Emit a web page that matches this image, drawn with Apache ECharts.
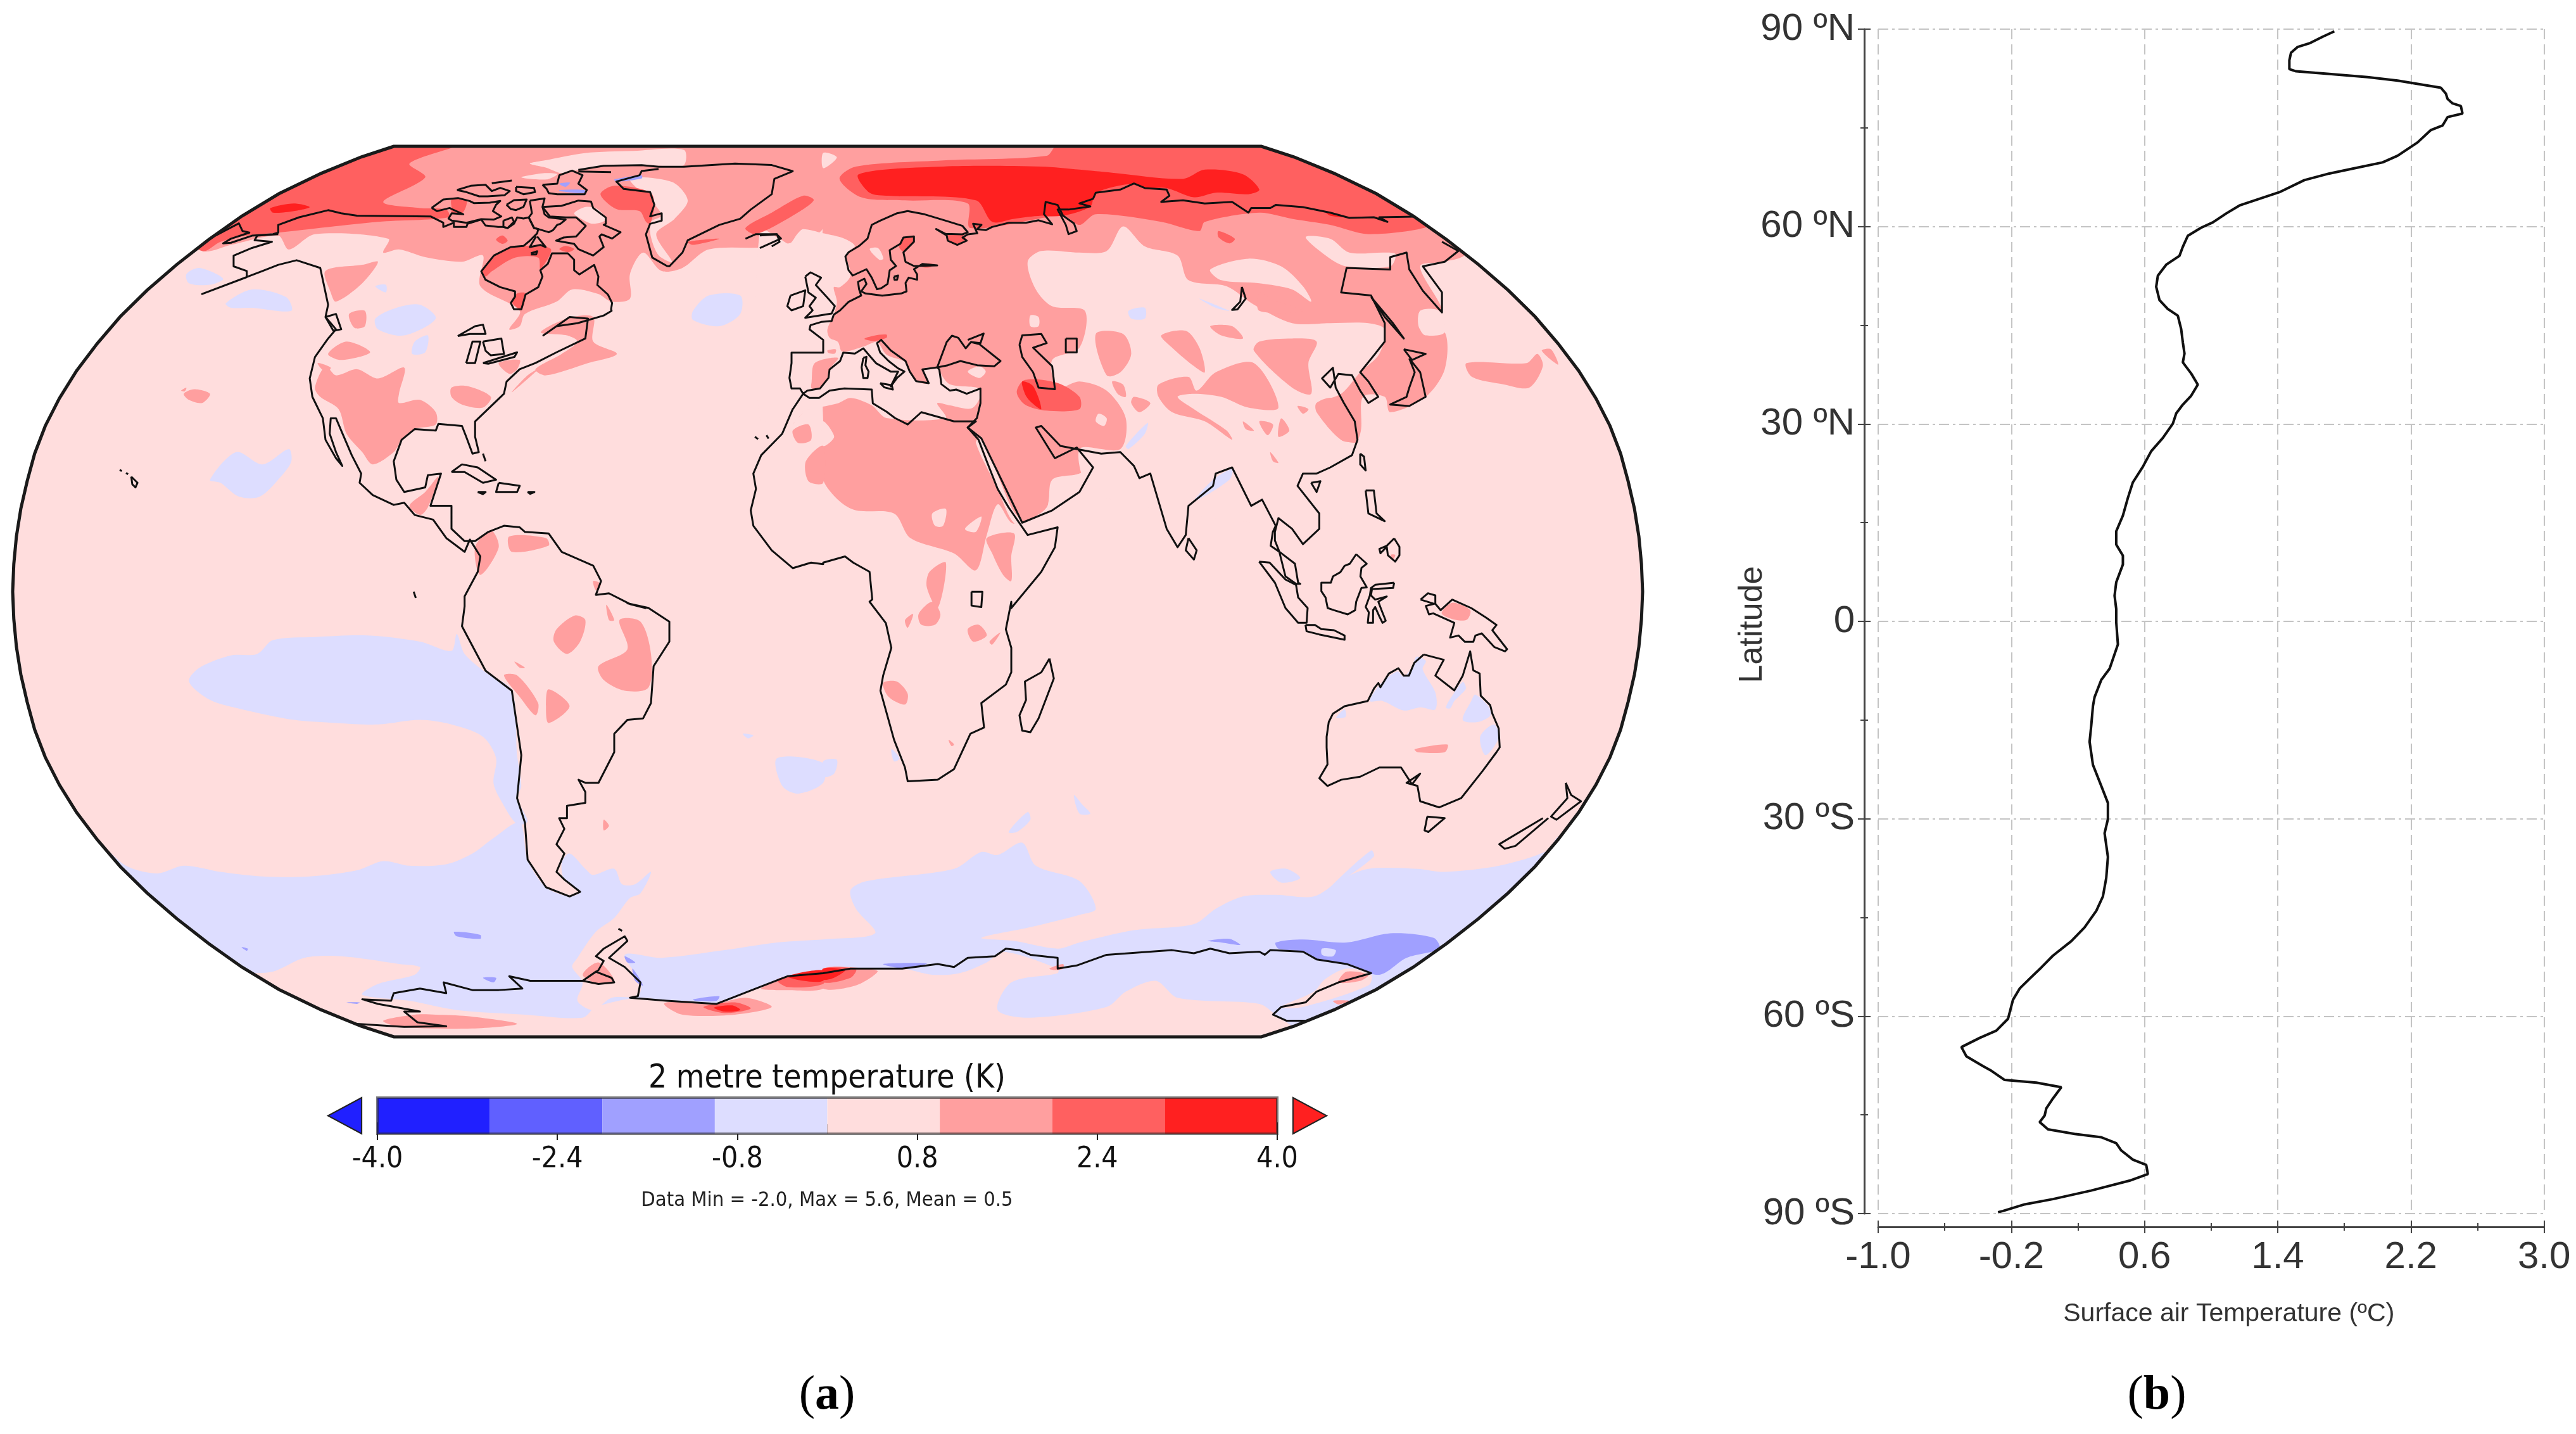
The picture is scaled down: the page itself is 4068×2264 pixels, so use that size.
<!DOCTYPE html>
<html><head><meta charset="utf-8">
<style>html,body{margin:0;padding:0;background:#fff}#c{width:4068px;height:2264px}</style>
<script src="https://cdn.jsdelivr.net/npm/echarts@6/dist/echarts.min.js"></script>
</head><body><div id="c"></div>
<script>
/* ---------- panel (b): zonal mean curve ---------- */
const sfcTemp=[1.74,1.67,1.59,1.52,1.48,1.47,1.47,1.51,1.71,1.94,2.12,2.27,2.38,2.41,2.42,2.45,2.50,2.51,2.42,2.39,2.32,2.24,2.12,2.03,1.85,1.71,1.56,1.41,1.17,1.09,1.01,0.94,0.86,0.83,0.81,0.73,0.68,0.67,0.69,0.74,0.80,0.82,0.83,0.84,0.83,0.88,0.92,0.88,0.83,0.79,0.77,0.71,0.64,0.59,0.53,0.50,0.47,0.43,0.43,0.47,0.47,0.43,0.42,0.43,0.43,0.44,0.39,0.34,0.30,0.29,0.28,0.27,0.29,0.34,0.38,0.38,0.36,0.38,0.37,0.35,0.31,0.24,0.16,0.05,-0.02,-0.09,-0.15,-0.19,-0.22,-0.29,-0.39,-0.50,-0.47,-0.37,-0.32,-0.24,-0.05,0.10,0.05,0.01,0,-0.03,0.02,0.18,0.34,0.43,0.46,0.53,0.61,0.62,0.51,0.28,0.05,-0.12,-0.25,-0.28];
const latitude=[89.66,88.85,87.84,87.3,86.42,85.27,83.92,83.59,83.18,82.71,82.17,81.56,81.09,80.21,79.4,78.72,78.32,77.17,76.63,75.35,74.67,72.78,70.76,69.75,68.8,68.06,67.05,65.22,63.2,61.98,60.63,59.82,58.6,56.92,55.56,54.2,52.53,50.84,48.81,47.46,46.45,44.42,42.4,40.7,39.36,37.67,35.98,34.29,32.94,31.59,30.04,27.88,25.86,23.5,21.13,18.77,16.07,13.7,11.68,9.99,8.64,5.94,3.91,1.88,-0.14,-3.5,-7.2,-8.9,-11.5,-12.9,-15.8,-18.3,-21.8,-25,-27.6,-30.05,-32.2,-35.8,-39,-41.8,-44,-46.5,-48.6,-50.8,-52.6,-54.3,-55.8,-57.5,-60.4,-62.2,-63.3,-64.7,-66.1,-67.6,-68.3,-69.7,-70.1,-70.8,-72.5,-74,-75.1,-76.1,-77.2,-77.9,-78.4,-79.3,-80.4,-81.8,-82.6,-84,-85,-86.5,-87.8,-88.6,-89.6,-89.8];
const tempTicks=[-1,-0.2,0.6,1.4,2.2,3], tempMinor=[-0.6,0.2,1,1.8,2.6];
const latTicks=[90,60,30,0,-30,-60,-90], latMinor=[75,45,15,-15,-45,-75];
const latLabels=['90 ºN','60 ºN','30 ºN','0','30 ºS','60 ºS','90 ºS'];

/* ---------- colour bar ---------- */
const barEdges=[-4,-3,-2,-1,0,1,2,3,4];
const barColors=['#2020FF','#6060FF','#A0A0FF','#DDDDFF','#FFDDDD','#FF9F9F','#FF6060','#FF2020'];
const barTicks=[-4,-2.4,-0.8,0.8,2.4,4], barMinor=[-3.2,-1.6,0,1.6,3.2];

/* ---------- map outline: Robinson table (lat step 5 deg) ---------- */
const robinsonX=[1,.9986,.9954,.99,.9822,.973,.96,.9427,.9216,.8962,.8679,.835,.7986,.7597,.7186,.6732,.6213,.5722,.5322];
const robinsonY=[0,.062,.124,.186,.248,.31,.372,.434,.4958,.5571,.6176,.6769,.7346,.7903,.8435,.8936,.9394,.9761,1];

/* map geometry read from survey sheets and turned into projected degrees */
const plane=(ox,oy,fx,fy)=>a=>{const r=[];for(let i=0;i<a.length;i+=2){const X=ox+a[i]/fx,Y=oy+a[i+1]/fy;r.push([(X-1307)/1287*180,(934-Y)/703*90]);}return r;};
const S1=plane(0,200,1.2062,2.0632),S2=plane(1300,200,1.1615,2.0632),S3=plane(0,950,1.2062,2.0632),S4=plane(1300,950,1.1615,2.0632);
const A=plane(680,230,3,3),E=plane(1200,320,3,3),I=plane(1950,840,3,3);
const J=(...p)=>[].concat(...p);

const bluePale=[
 S3([360,260,380,215,440,175,490,170,520,125,600,115,700,110,800,130,860,160,870,105,885,170,925,230,975,290,985,500,993,600,985,640,1005,715,985,725,955,650,940,590,945,510,920,440,860,400,800,385,720,400,640,395,560,385,460,350,400,320]),
 J(S3([100,700,180,770,240,860,300,885,350,860,420,880,500,895,590,895,680,875,730,845,780,860,850,855,900,820,940,770,990,720,1005,840,1040,930,1085,960,1105,945,1075,905,1070,850,1085,820,1115,870,1130,890,1170,870,1185,920,1210,920,1240,880,1220,950,1200,965,1170,1030,1135,1075,1100,1160,1090,1190,1110,1240,1100,1300,1130,1330,1165,1290,1215,1285,1220,1240,1190,1150,1260,1160,1380,1135,1480,1110,1568,1100]),
   S4([0,1100,95,1080,60,1000,50,940,80,910,240,870,290,815,320,825,365,785,390,860,470,910,500,1000,470,1020,380,1060,290,1095,350,1105,430,1130,470,1110,570,1070,680,1050,720,1000,770,960,830,955,900,960,950,905,1000,870,1090,870,1140,880,1240,860,1330,810,1350,765,1560,760,1560,1560,0,1560]),S3([0,1560,0,700]))
];
const antarcticPink=[
 J(S3([430,1230,520,1205,580,1160,650,1155,760,1180,800,1190,790,1215,720,1245,690,1280,780,1300,870,1330,1000,1345,1110,1355,1135,1320,1215,1290,1270,1300,1365,1310,1440,1260,1500,1220,1568,1205]),
   S4([0,1205,50,1195,145,1195,200,1215,250,1210,300,1175,330,1140,430,1195,430,1210,345,1240,320,1330,380,1355,520,1320,555,1270,610,1235,650,1290,800,1310,830,1345,850,1370,1000,1560,0,1560]),S3([1568,1560,400,1560])),
 S4([900,1270,920,1230,960,1195,1005,1215,1000,1250,880,1320,840,1320])
];
const pinkMid=[
 /* arctic north america to greenland */
 S1([300,300,385,405,440,385,530,355,550,400,600,350,740,365,730,410,760,400,810,425,880,440,920,420,915,520,990,600,970,660,990,650,1000,610,1060,570,1090,530,1140,545,1165,570,1200,560,1200,480,1225,410,1260,470,1300,460,1350,400,1470,390,1568,330,1568,60,750,60]),
 /* eurasia, middle east, north africa */
 S2([0,60,1210,60,1180,410,1140,440,1095,455,1135,600,1095,600,1095,660,1140,670,1140,790,1105,880,1040,930,1030,880,990,880,985,1000,950,1100,550,1100,550,1060,470,1130,420,1150,410,1240,365,1290,345,1290,320,1230,300,1330,280,1445,240,1390,160,1340,130,1260,60,1250,30,1220,0,1150,0,1040,20,1010,0,960,0,60]),
 /* north america */
 S1([1030,670,1080,625,1130,620,1130,700,1175,740,1120,770,1040,810,1020,790,1070,740,1100,700,1080,680]),
 S1([600,850,620,780,640,810,680,790,720,820,770,785,760,870,760,900,800,890,830,930,830,970,790,985,765,1020,750,1060,710,1100,690,1060,660,1000,645,920,610,880]),
 S1([625,740,660,700,705,735,650,760]),S1([605,770,630,785,620,800]),S1([665,610,695,600,695,650,675,655]),
 S1([620,470,690,450,720,440,690,510,640,570,630,540]),S1([860,850,890,845,935,880,920,915,880,905,860,880]),
 S1([950,770,990,760,985,790,970,805]),S1([1005,810,1025,790,975,865]),S1([780,1235,810,1190,835,1140,815,1240,800,1265]),
 S1([345,860,355,850,352,862]),S1([350,870,370,855,400,870,385,900,360,890]),
 S1([1510,990,1540,970,1545,1020,1520,1030]),S1([1535,1090,1568,1040,1568,1160,1540,1155]),S1([1510,970,1530,930,1515,960]),
 /* south america */
 S1([905,1370,935,1315,950,1370,915,1460]),S1([970,1335,1040,1340,1045,1365,975,1385]),S1([1130,1480,1145,1490,1135,1510]),
 S3([1060,90,1095,45,1115,60,1105,130,1080,170,1055,130]),S3([1155,10,1170,60,1160,60]),
 S3([1180,60,1220,65,1240,170,1235,280,1190,290,1150,255,1140,210,1195,155]),S3([980,195,1000,215,990,215]),
 S3([960,240,985,240,1025,330,1020,370,990,310]),S3([1045,285,1085,340,1045,395,1040,340]),S3([1150,710,1160,730,1150,745]),
 /* antarctica */
 S3([730,1365,790,1345,830,1345,890,1350,985,1375,900,1390,760,1385]),S3([1265,1310,1300,1300,1360,1310,1420,1290,1470,1320,1400,1345,1300,1345]),
 S3([1110,1215,1140,1175,1170,1235,1140,1245]),S3([1450,1260,1500,1225,1568,1205,1568,1260,1500,1265]),S4([0,1195,80,1195,100,1205,60,1250,0,1260]),
 S4([945,1240,960,1205,1000,1215,985,1235]),S4([935,1300,965,1300,945,1312]),S4([415,1195,440,1180,440,1195,425,1200])
];
const pinkPale=[
 A([470,85,540,70,730,35,960,25,1200,20,1200,92,1080,95,820,95,700,115,620,130,550,105]),A([430,150,540,130,600,135,550,160]),
 S1([1200,170,1280,180,1310,240,1285,300,1250,350,1280,440,1255,420,1240,360,1240,310,1260,290,1245,250]),
 A([680,320,735,290,790,300,830,350,770,370,720,350]),
 S2([0,85,25,100,0,135]),E([520,220,560,215,585,265,565,270]),S2([380,615,395,620,395,650,380,650]),
 /* atlantic europe and the mediterranean */
 E([0,130,100,175,140,195,180,145,205,125,300,145,400,170,450,205,410,245,430,345,380,400,350,400,365,470,350,530,320,600,330,640,370,660,390,705,495,680,555,660,600,720,690,755,710,800,740,845,800,855,770,790,840,780,850,800,900,860,1040,880,1040,930,1000,975,900,960,840,950,880,1020,600,1020,530,960,430,925,370,950,210,985,130,1020,0,1020]),
 /* central, south and east asia */
 S2([375,440,400,405,470,410,520,405,550,325,590,390,650,420,670,500,740,520,790,580,860,640,930,640,1000,640,1030,660,1020,740,985,800,950,870,905,900,905,925,950,1020,985,1040,985,1200,920,1300,500,1200,470,1050,545,1050,555,950,520,860,470,830,430,850,420,760,470,720,480,600,420,585,390,530]),
 S2([710,465,780,430,840,455,880,520,895,570,860,530,800,510,730,500]),S2([885,360,930,365,965,410,1030,410,1050,415,1040,455,960,455,930,430]),
 S2([1095,600,1130,600,1140,670,1105,680,1095,660]),
 S2([0,960,20,1010,0,1040]),S2([505,935,520,950,515,975,500,960]),E([985,800,1040,775,1070,800,1040,830]),
 S2([290,1010,345,1240,365,1290,375,1330,345,1280,320,1180,280,1030]),S2([415,1245,425,1160,470,1130,495,1110,470,1190]),
 S2([200,1260,225,1245,220,1300,205,1300]),S2([260,1310,290,1270,280,1320])
];
const bluePatches=[
 S1([355,480,380,460,425,495,400,515,360,510]),S1([430,575,480,530,545,555,555,600,480,590,440,590]),
 S1([715,625,755,590,800,580,830,625,770,680,720,660]),S1([790,700,815,680,810,735,785,740]),S1([715,520,735,515,735,540]),
 S1([1320,600,1350,550,1410,550,1410,610,1370,650,1320,630]),S1([400,1150,450,1060,500,1100,550,1050,555,1090,535,1140,495,1205,455,1205,420,1160]),
 S3([1480,510,1568,525,1568,590,1520,625,1490,600]),S3([1415,430,1435,435,1425,445]),
 S2([560,600,590,590,590,625,565,625]),S2([555,1040,595,965,590,1000,560,1050]),S2([715,1150,750,1115,745,1150,680,1220]),S2([690,560,745,600,720,590]),
 S4([340,750,375,685,380,710,355,750]),S4([460,630,475,660,490,690,470,690]),S4([820,880,850,870,875,900,840,915]),S4([930,930,1005,810,1010,830,950,910]),
 I([640,800,690,720,770,660,800,685,840,640,860,590,905,610,890,650,950,760,950,840,880,830,800,845,700,800]),I([480,880,520,840,525,875]),I([1000,830,1040,760,1080,710,1095,740,1070,770,1040,800,1020,835]),I([1080,890,1120,800,1140,770,1205,830,1210,870,1150,900]),
 S4([1205,440,1230,400,1240,440,1215,500]),S4([0,520,25,515,20,560,0,570]),S4([125,480,140,510,130,520])
];
const pinkPatches=[
 E([245,850,260,760,370,735,330,790,320,830,280,880,245,880]),E([320,700,360,695,355,715,325,712]),
 S2([500,675,550,675,565,740,545,800,520,810]),S2([620,680,665,665,690,720,700,800,680,780,640,720]),S2([530,830,550,840,555,880,540,870]),S2([570,880,600,900,580,930,565,900]),
 S2([615,840,670,815,685,860,720,800,790,770,835,915,780,915,730,880,680,870,650,880,680,920,740,990,750,1020,700,960,640,930,615,880]),
 S2([710,650,750,650,770,690,730,680]),S2([790,730,800,700,860,690,905,700,890,770,895,870,860,850]),S2([800,540,820,560,880,600,800,600]),S2([860,630,870,625,875,640]),
 S2([770,960,790,990,775,985]),S2([840,950,855,990,835,1010]),S2([800,960,825,970,815,1005]),S2([870,910,890,920,880,935]),S2([820,1060,835,1095,825,1090]),
 S2([905,900,935,885,975,960,980,1020,950,1020,905,930]),
 S2([1180,770,1290,770,1310,740,1320,780,1295,850,1250,840,1190,815]),S2([1318,730,1335,725,1348,775]),
 S2([300,1340,350,1325,345,1400,345,1480,330,1460,310,1390]),S2([195,1450,225,1420,210,1568,190,1500]),
 S4([175,40,200,0,215,40,205,75,180,75]),S4([265,90,285,75,300,110,275,130]),S4([110,265,135,260,155,300,150,335,120,310]),S4([305,130,325,100,310,140]),S4([150,60,165,40,155,85]),S4([230,450,240,465,235,470]),
 S4([1085,480,1145,465,1140,490,1090,490]),I([980,385,1030,335,1115,370,1100,415,1040,415]),I([738,108,760,108,750,130])
];
const pinkStrong=[
 S1([300,300,750,60,870,60,780,120,810,165,730,245,800,265,850,270,855,295,720,310,530,345,470,355,420,375,385,405]),
 A([245,590,300,520,380,480,450,475,570,490,520,585,510,530,400,530,290,595,260,620]),A([385,740,410,700,450,700,430,775]),A([310,445,340,425,365,450,340,465]),A([610,490,640,475,680,490,650,505]),A([100,300,100,255,170,260,150,320,100,320]),
 A([805,230,870,190,1040,220,1060,280,1040,370,1020,360,990,310,880,300]),
 S1([1420,330,1470,280,1530,225,1550,240,1510,290,1440,350]),S1([1310,375,1370,365,1320,385]),
 E([495,645,540,630,600,625,600,640,540,655]),E([660,210,680,165,730,165,725,185,680,230]),E([775,290,815,290,810,305,770,305]),E([885,150,960,152,975,170,935,195,895,185]),
 S2([430,60,805,60,1085,290,1110,325,1000,350,930,320,860,300,800,280,700,310,690,340,620,310,500,285,470,320,440,290,270,330,265,250,150,240,70,230,30,170,60,130,220,110,410,95]),
 S2([725,340,755,365,745,380,725,360]),S2([355,865,370,825,430,835,470,880,470,920,410,925,370,905]),
 S3([1340,1320,1400,1305,1430,1325,1380,1340]),S4([0,1195,60,1197,50,1225,0,1240]),S3([1480,1230,1568,1205,1568,1245,1500,1255])
];
const redStrong=[
 S1([515,265,560,250,590,262,560,275,520,280]),
 S2([65,155,220,130,400,130,470,140,530,150,660,170,700,140,770,155,800,205,780,220,720,215,680,230,630,200,590,200,570,185,500,215,490,260,440,290,400,290,350,300,310,310,280,240,120,225,85,215]),
 S2([365,830,385,845,400,920,380,895,370,870]),S2([920,275,960,295,930,290]),
 S3([1360,1322,1395,1315,1410,1330,1380,1335]),S4([0,1195,40,1200,20,1225,0,1230]),S3([1500,1220,1568,1200,1568,1235,1530,1235])
];
const blueMid=[
 S4([830,1110,880,1100,960,1110,1040,1080,1120,1095,1130,1130,1070,1160,1020,1215,960,1180,905,1165,880,1140,835,1130]),
 S4([705,1105,745,1098,765,1118,730,1110]),S4([110,1180,190,1178,150,1195]),
 S3([865,1075,915,1085,915,1098,870,1090]),S3([460,1125,472,1130,470,1137]),S3([920,1225,945,1225,940,1240]),S3([660,1305,685,1305,680,1310]),
 S3([1190,1155,1210,1175,1195,1175]),S3([1205,1195,1225,1250,1210,1235]),S3([1320,1295,1370,1285,1365,1300,1325,1300]),
 A([610,180,660,175,640,195]),A([870,160,1000,140,1000,155,880,170]),A([610,210,730,210,730,225,610,215])
];
const bluePale2=[S4([915,1130,940,1135,935,1155,915,1150])];

/* coastlines */
const coasts=[
 /* americas */
 J(S1([410,355,455,315,462,340,475,345,440,365,425,380,440,378,480,355,520,350,530,345,530,320,570,295,625,272,650,282,680,290]),
   A([0,335,60,365,60,385,110,365,110,385,170,385,175,370,240,350,260,378,320,385,345,385,365,390,395,370,410,340,440,345,465,340,490,390,510,395,505,415,470,450,440,475,380,480,300,520,240,595,260,635,330,670,400,690,400,715,380,745,395,775,430,775,450,705,510,670,530,620,520,590,555,560,575,510,650,510,680,540,680,590,705,610,775,565,795,620,790,660,840,705,860,745,855,775]),
   S1([1165,600,1150,615,1100,640,1060,650,1035,680,1085,620,1120,625,1115,690,1060,735,1020,770,990,790,965,830,960,870,905,960,905,1010,912,1060,900,1065,888,1010,880,975,835,968,830,990,790,985,765,1020,750,1090,755,1150,770,1190,810,1175,815,1135,840,1130,820,1235,860,1235,860,1310,885,1350,905,1350,930,1320,960,1300,990,1305,1000,1320,1045,1325,1070,1385,1130,1430,1145,1480,1135,1525,1160,1520,1200,1555,1230,1568]),
   S3([1195,5,1235,20,1275,65,1275,130,1245,210,1240,330,1225,380,1195,385,1170,430,1170,490,1140,590,1115,590,1102,580,1115,620,1115,655,1080,665,1080,705,1065,705,1075,740,1060,790,1075,820,1060,880,1075,905,1105,945,1085,960,1040,930,1005,840,1000,720,985,640,993,500,975,290,925,225,880,80,885,15]),
   S1([885,1530,910,1450,915,1400,895,1345,885,1385,850,1340,825,1280,790,1265,770,1225,750,1232,710,1200,685,1160,688,1130,670,1070,650,990,640,950,630,950,628,1000,640,1060,652,1105,640,1080,620,1020,615,950,595,880,590,820,600,750,625,690,640,660,620,620,625,580,615,500,610,460,565,435,530,450,500,470,385,545,470,490,470,470,445,455,445,420,480,395,518,375,485,370,490,355,530,350])),
 /* canadian arctic */
 A([5,295,60,255,130,248,185,262,205,272,280,270,330,262,310,280,295,310,335,335,300,350,240,348,170,365,100,355,85,345,100,320,155,325,100,300,90,295,30,310,5,295]),
 A([360,280,395,258,455,255,440,290,405,305,380,300,360,280]),A([345,355,385,340,395,360,365,390,345,385,345,355]),
 A([470,260,540,250,530,290,540,325,560,340,605,345,640,350,615,370,600,375,580,400,560,410,510,395,490,390,465,340,480,320,470,260]),
 A([505,430,545,480,520,470,470,480,500,430]),A([475,510,505,500,500,515,475,515]),
 A([530,290,620,285,700,260,760,265,770,295,830,340,830,370,820,375,900,410,860,440,810,420,800,430,820,480,770,520,700,490,680,465,595,450,630,435,690,430,735,380,690,340,640,340,565,335,530,290]),
 A([125,210,190,190,260,185,290,215,330,200,375,215,350,235,270,240,230,240,170,220,125,210]),A([290,178,385,165]),A([405,195,490,200,495,220,440,230,405,215,405,195]),
 A([530,185,600,180,610,140,670,118,720,140,700,180,740,210,730,230,600,230,560,225,550,205,530,185]),A([700,122,855,125]),
 /* greenland */
 J(A([700,115,820,95,1000,92,1080,100,1200,100]),S1([1400,120,1470,125,1510,145,1475,170,1470,220,1430,270,1410,300,1370,320,1310,370,1300,410,1275,455]),
   A([1120,570,1050,530,1020,420,1040,370,1095,355,1095,320,1040,335,1060,280,1040,220,915,205,880,170,990,140,1000,120,1080,110])),
 E([0,155,80,150,100,170,0,215]),S1([1420,365,1440,350,1480,350,1485,375,1470,390]),
 S1([860,1125,880,1100,910,1110,945,1150,920,1160,885,1125,860,1125]),S1([950,1160,990,1170,985,1190,945,1190,950,1160]),S1([910,1190,925,1190,920,1197,910,1190]),S1([1005,1190,1018,1190,1010,1196,1005,1190]),S1([920,1065,925,1090]),
 S1([228,1118,232,1122]),S1([240,1128,244,1132]),S1([250,1140,262,1160,258,1175,252,1165,250,1140]),S1([788,1515,792,1535]),S1([1438,1010,1444,1018]),S1([1460,1005,1464,1016]),
 S1([872,682,905,650,920,645,925,675,895,675,872,682]),S1([888,770,900,700,915,700,905,770,888,770]),S1([920,700,955,690,960,740,935,745,925,730,920,700]),S1([920,770,985,735,980,750,930,772,920,770]),
 S1([620,620,640,610,650,660,635,665,620,620]),
 /* british isles */
 E([215,350,240,330,290,355,265,390,320,450,355,490,340,525,215,545,250,510,235,490,265,450,230,425,215,350]),E([145,440,215,415,205,490,150,510,130,490,145,440]),
 /* africa */
 J(E([205,905,235,925,280,925,330,890,400,880,530,885,535,950,600,990,640,1020]),S2([155,970,180,930,240,960,280,960,265,980,285,1020,300,1090,320,1180,340,1240,375,1330,430,1305,425,1370,400,1450,345,1568]),S4([345,0,335,90,345,150,345,230,335,270,290,330,295,410,270,430,240,545,210,580,155,585,150,540,130,450,105,290,110,240,125,150,115,70,85,0]),S2([90,1540,85,1450,55,1420,40,1400,0,1420]),S1([1568,1425,1545,1420,1510,1438,1470,1380,1435,1300,1430,1250,1440,1180,1435,1130,1450,1070,1490,1000,1510,920]),E([156,978,205,905])),
 /* europe and the russian arctic */
 J(E([840,780,770,790,800,855,740,845,710,800,690,750,620,700,575,650,555,665,570,710,610,750,655,785,685,800,650,830,620,870,655,800,620,800,550,760,520,725,490,690,450,715,395,710,380,750,330,790,325,830,285,880,225,890,205,905,190,880,150,880,140,830,150,760,150,710,300,710,300,650,235,600,240,580,290,565,340,560,350,530,380,510,420,470,480,440,470,410,465,375,495,360,505,385,480,420,500,430,580,440,670,430,695,420,690,380,705,355,745,365,745,340,730,315,770,290,840,297,730,300,690,280,680,235,730,185,730,160,680,165,665,195,615,225,620,270,645,300,615,320,605,385,575,405,555,410,530,355,505,315,440,345,420,320,405,255,420,235,470,205,510,170,530,105,570,85,650,50,700,40,780,55,880,85,960,110,985,140,960,150,880,148,835,125,885,155,890,180,935,200,980,180,960,165,985,150,1030,145,1010,100,1050,105,1030,125,1070,130,1100,115,1180,95,1260,95]),
   S2([395,305,420,318,405,285,408,245,430,255,440,290,460,315,465,340,450,350,445,320,430,270,450,270,490,260,470,250,495,235,500,215,545,205,570,185,590,200,630,205,635,225,620,245,660,240,700,250,750,245,780,280,785,265,820,265,830,255,880,262,930,280,965,297,1010,295,1035,310,1020,295,1085,293])),
 E([635,350,655,345,650,365,638,365,635,350]),E([490,735,505,730,500,770,515,800,510,830,490,830,482,780,490,735]),E([570,855,625,865,630,885,590,875,570,855]),
 E([840,780,855,740,885,660,910,630,940,640,975,690,1000,660,1040,670,1140,750,1110,775,1030,770,950,750,890,770,840,780]),E([985,650,1060,620,1045,665,1000,660]),
 /* asia */
 J(S2([1135,375,1165,405,1140,440,1100,455,1135,540,1135,605,1100,535,1075,465,1070,410,1040,425,1040,465,960,460,950,540,1005,550,1030,640,1030,700,1010,745,985,800,1000,830,1018,880,1000,900,985,860,970,810,945,805,930,850,915,820,935,785,940,850,955,900,975,960,980,1020,970,1070,930,1110,905,1130,880,1130,870,1170,910,1260,910,1310,880,1360,860,1310,835,1275]),
   I([190,0,190,40,210,90,220,130,240,210,290,245,310,245,300,240,285,150,220,100,170,65,180,0]),
   S2([830,1300,805,1215,785,1235,750,1110,720,1130,715,1170,670,1235,665,1330,650,1370,630,1310,600,1130,580,1145,570,1105,545,1060,510,1065,465,1050,435,1040,400,975,390,980,425,1080,465,1045,495,1110,470,1190,420,1250,365,1290,290,1015,265,980]),
   S2([282,949]),E([1045,950,1045,880,980,905,930,885,900,890,860,860,850,790,840,780])),
 S2([360,710,365,680,400,675,410,705,385,720,420,780,425,855,395,850,385,800,365,750,360,710]),S2([445,690,465,690,465,735,445,735,445,690]),S2([768,522,775,560,760,595,750,597,765,570,768,522]),
 S2([1005,555,1030,620,1065,690,1045,640,1005,555]),S2([1065,725,1105,740,1080,760,1065,725]),S2([1075,755,1095,800,1105,880,1075,910,1040,905,1070,880,1075,850,1085,800,1075,755]),
 S2([985,1065,992,1075,995,1120,985,1100,985,1065]),S2([895,1160,912,1155,905,1190,895,1160]),S2([995,1185,1010,1185,1015,1260,1030,1285,1000,1260,995,1185]),S2([670,1340,685,1380,680,1410,665,1380,670,1340]),
 S2([272,1515,292,1515,290,1565,272,1560,272,1515]),
 /* indonesia and oceania */
 I([755,30,780,70,780,110,760,140,725,110,720,70,690,100,685,80,720,65,755,30]),
 I([115,140,165,145,240,225,290,250,300,310,345,360,340,430,300,430,240,360,190,240,115,140]),I([335,440,380,440,410,460,470,465,520,490,520,510,400,485,340,470,335,440]),
 I([575,105,625,150,600,170,595,210,625,262,600,265,575,330,570,370,535,390,470,370,440,360,430,310,410,280,410,240,455,240,465,210,500,190,520,160,545,150,575,105]),
 I([755,240,750,265,650,270,645,300,665,320,720,305,680,330,695,370,715,420,700,430,685,400,665,355,655,370,655,430,630,430,635,380,620,355,640,300,645,265,665,250,755,240]),
 I([880,320,915,290,950,300,950,340,975,370,1030,320,1120,360,1190,405,1240,440,1220,465,1290,555,1280,565,1230,545,1170,480,1140,490,1130,520,1090,520,1060,490,1020,500,1040,430,940,385,920,390,905,350,945,340,880,320]),
 J(I([895,580,990,605,950,680,1040,750,1080,680,1115,565,1130,655,1160,670,1165,775,1210,820,1220,860,1250,930,1255,1020]),S4([1235,490,1210,550,1170,640,1130,670,1095,650,1090,600,1070,590,1095,560,1080,595,1060,540,1020,540,985,570,950,580,925,600,910,575,925,530]),I([435,1020,435,970,445,900,465,860,520,825,630,800,660,740,680,715,690,735,730,670,775,645,800,680,825,680,850,620,895,580])),
 S4([1108,700,1140,705,1110,750,1103,745,1108,700]),S4([1362,590,1372,630,1390,650,1345,710,1335,700,1365,640,1362,590]),S4([1330,705,1320,720,1270,795,1250,805,1240,790,1320,705]),
 S4([415,185,423,250,395,380,380,425,365,420,360,370,372,320,370,260,400,230,415,185]),
 /* antarctica */
 J(S3([680,1375,770,1385,850,1383,795,1370,770,1335,800,1335,720,1310,690,1295,745,1300,750,1275,800,1260,850,1275,845,1240,900,1265,950,1265,995,1260,970,1220,1010,1235,1110,1235,1135,1205,1165,1225,1170,1240,1140,1245,1110,1235,1140,1200,1150,1170,1135,1155,1150,1130,1190,1090,1195,1105,1160,1160,1190,1190,1220,1240,1215,1285,1200,1290,1270,1300,1365,1310,1440,1260,1500,1220,1568,1210]),
   S4([0,1210,50,1195,145,1195,210,1180,240,1190,265,1160,315,1155,335,1130,360,1135,380,1150,430,1160,430,1195,465,1185,520,1150,640,1135,680,1145,710,1130,745,1145,800,1140,810,1150,820,1135,880,1140,905,1165,960,1180,1005,1210,945,1240,905,1270,885,1305,840,1320,825,1345,850,1365,890,1365])),
 S3([1178,1065,1185,1072])
];

/* ---------- draw order of the map fills ---------- */
const mapLayers=[[bluePale,'#DDDDFF'],[antarcticPink,'#FFDDDD'],[pinkMid,'#FF9F9F'],[pinkPale,'#FFDDDD'],[bluePatches,'#DDDDFF'],[pinkPatches,'#FF9F9F'],[pinkStrong,'#FF6060'],[redStrong,'#FF2020'],[blueMid,'#A0A0FF'],[bluePale2,'#DDDDFF']];

const outline=(()=>{const n=robinsonX.length,r=[];
 for(let i=n-1;i>=0;i--)r.push([-180*robinsonX[i],90*robinsonY[i]]);
 for(let i=1;i<n;i++)r.push([-180*robinsonX[i],-90*robinsonY[i]]);
 for(let i=n-1;i>=0;i--)r.push([180*robinsonX[i],-90*robinsonY[i]]);
 for(let i=1;i<n;i++)r.push([180*robinsonX[i],90*robinsonY[i]]);
 return r;})();

const polys=[];mapLayers.forEach(([list,col])=>list.forEach(p=>{if(p.length>2)polys.push({p,col});}));

const FONT_B='"Liberation Sans",Arial,sans-serif';
const FONT_A='"DejaVu Sans Condensed","DejaVu Sans",sans-serif';
const SERIF='"Liberation Serif",serif';

const tickAxis=(base,vals,len,inside,col,width)=>Object.assign({type:'value',axisLine:{show:false,onZero:false},axisLabel:{show:false},splitLine:{show:false},
 axisTick:{show:true,customValues:vals,length:len,inside,lineStyle:{color:col,width}}},base);

const xCb={gridIndex:1,min:-4,max:4,position:'bottom'};
const xLine={gridIndex:2,min:-1,max:3,position:'bottom',offset:21};
const yLine={gridIndex:2,min:-90,max:90,position:'left',offset:22};

const option={
 animation:false,backgroundColor:'#fff',
 grid:[{left:20,right:1474,top:231,bottom:627},{left:596,right:2051,top:1733,bottom:474},{left:2966,right:50.4,top:46,bottom:348}],
 xAxis:[
  {type:'value',gridIndex:0,min:-180,max:180,show:false},
  Object.assign({type:'value',axisLine:{show:false,onZero:false},splitLine:{show:false},
    axisTick:{show:true,customValues:barTicks,length:10,lineStyle:{color:'#222',width:2}},
    axisLabel:{show:true,customValues:barTicks,margin:18,fontFamily:FONT_A,fontSize:46,color:'#111',formatter:v=>v.toFixed(1)}},xCb),
  tickAxis(xCb,barTicks,18,true,'#222',2),tickAxis(xCb,barMinor,15,true,'#222',2),
  Object.assign({type:'value',name:'Surface air Temperature (ºC)',nameLocation:'middle',nameGap:117,nameMoveOverlap:false,nameTextStyle:{fontFamily:FONT_B,fontSize:41,color:'#333',padding:[0,0,0,56]},
    axisLine:{show:true,onZero:false,lineStyle:{color:'#444',width:3}},
    axisTick:{show:true,customValues:tempTicks,length:10,lineStyle:{color:'#444',width:2}},
    axisLabel:{show:true,customValues:tempTicks,margin:18,fontFamily:FONT_B,fontSize:60,color:'#333',formatter:v=>v.toFixed(1)},
    splitLine:{show:true,lineStyle:{color:'#c4c4c4',width:2,type:[16,8]}}},xLine),
  tickAxis(xLine,tempTicks,10,true,'#444',2),tickAxis(xLine,tempMinor,6,false,'#444',2),tickAxis(xLine,tempMinor,6,true,'#444',2)
 ],
 yAxis:[
  {type:'value',gridIndex:0,min:-90,max:90,show:false},
  {type:'value',gridIndex:1,min:0,max:1,show:false},
  Object.assign({type:'value',name:'Latitude',nameLocation:'middle',nameGap:150,nameRotate:90,nameMoveOverlap:false,nameTextStyle:{fontFamily:FONT_B,fontSize:52,color:'#333',padding:[0,10,0,0]},
    axisLine:{show:true,onZero:false,lineStyle:{color:'#444',width:3}},
    axisTick:{show:true,customValues:latTicks,length:10,lineStyle:{color:'#444',width:2}},
    axisLabel:{show:true,customValues:latTicks,margin:15,padding:[14,0,0,0],fontFamily:FONT_B,fontSize:60,color:'#333',formatter:v=>latLabels[latTicks.indexOf(v)]},
    splitLine:{show:true,lineStyle:{color:'#c4c4c4',width:2,type:[16,6,4,6]}}},yLine),
  tickAxis(yLine,latTicks,10,true,'#444',2),tickAxis(yLine,latMinor,6,false,'#444',2),tickAxis(yLine,latMinor,6,true,'#444',2)
 ],
 series:[
  {type:'custom',xAxisIndex:0,yAxisIndex:0,silent:true,clip:false,z:2,
   data:polys.map((o,i)=>[o.p[0][0],o.p[0][1],i]),
   renderItem:(params,api)=>{
     const clip=outline.map(c=>api.coord(c));
     const kids=[];
     if(params.dataIndex===0)kids.push({type:'polygon',shape:{points:clip},style:{fill:'#FFDDDD'}});
     const o=polys[params.dataIndex];
     kids.push({type:'polygon',shape:{points:o.p.map(c=>api.coord(c)),smooth:0.3},style:{fill:o.col}});
     return {type:'group',clipPath:{type:'polygon',shape:{points:clip}},children:kids};
   }},
  {type:'custom',xAxisIndex:0,yAxisIndex:0,silent:true,clip:false,z:3,
   data:coasts.map((c,i)=>[c[0][0],c[0][1],i]),
   renderItem:(params,api)=>({type:'polyline',shape:{points:coasts[params.dataIndex].map(c=>api.coord(c))},style:{fill:'none',stroke:'#111',lineWidth:3,lineJoin:'round'}})},
  {type:'custom',xAxisIndex:0,yAxisIndex:0,silent:true,clip:false,z:4,data:[[0,0]],
   renderItem:(params,api)=>({type:'polygon',shape:{points:outline.map(c=>api.coord(c))},style:{fill:'none',stroke:'#1a1a1a',lineWidth:5}})},
  {type:'custom',xAxisIndex:1,yAxisIndex:1,silent:true,clip:false,z:2,
   data:barColors.map((c,i)=>[barEdges[i],0,i]),
   renderItem:(params,api)=>{const i=params.dataIndex,a=api.coord([barEdges[i],1]),b=api.coord([barEdges[i+1],0]);
     return {type:'rect',shape:{x:a[0],y:a[1],width:b[0]-a[0],height:b[1]-a[1]},style:{fill:barColors[i]}};}},
  {type:'custom',xAxisIndex:1,yAxisIndex:1,silent:true,clip:false,z:3,data:[[-4,0]],
   renderItem:(params,api)=>{const a=api.coord([-4,1]),b=api.coord([4,0]);
     const tri=(x0,x1,c)=>({type:'polygon',shape:{points:[api.coord([x0,1]),api.coord([x1,.5]),api.coord([x0,0])]},style:{fill:c,stroke:'#222',lineWidth:2}});
     return {type:'group',children:[
      {type:'rect',shape:{x:a[0],y:a[1],width:b[0]-a[0],height:b[1]-a[1]},style:{fill:'none',stroke:'rgba(40,40,40,.6)',lineWidth:4}},
      tri(-4.14,-4.44,barColors[0]),tri(4.14,4.44,barColors[7])]};}},
  {type:'line',xAxisIndex:4,yAxisIndex:2,showSymbol:false,silent:true,z:5,clip:false,
   data:sfcTemp.map((v,i)=>[v,latitude[i]]),lineStyle:{color:'#111',width:4}}
 ],
 graphic:[
  {type:'text',x:1306,y:1704,style:{text:'2 metre temperature (K)',font:'51px '+FONT_A,fill:'#111',textAlign:'center',textVerticalAlign:'middle'}},
  {type:'text',x:1306,y:1896,style:{text:'Data Min = -2.0, Max = 5.6, Mean = 0.5',font:'32.5px '+FONT_A,fill:'#222',textAlign:'center',textVerticalAlign:'middle'}},
  {type:'text',x:1306,y:2204,style:{text:'{p|(}{b|a}{p|)}',rich:{p:{fontFamily:SERIF,fontSize:76,fill:'#000'},b:{fontFamily:SERIF,fontSize:76,fontWeight:'bold',fill:'#000'}},textAlign:'center',textVerticalAlign:'middle'}},
  {type:'text',x:3406,y:2204,style:{text:'{p|(}{b|b}{p|)}',rich:{p:{fontFamily:SERIF,fontSize:76,fill:'#000'},b:{fontFamily:SERIF,fontSize:76,fontWeight:'bold',fill:'#000'}},textAlign:'center',textVerticalAlign:'middle'}}
 ]
};
const chart=echarts.init(document.getElementById('c'),null,{renderer:'canvas',width:4068,height:2264});
chart.setOption(option);
</script></body></html>
